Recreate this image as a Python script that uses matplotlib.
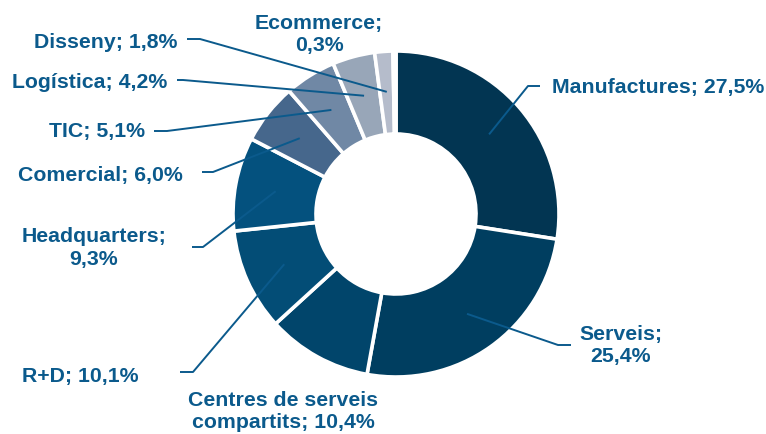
import numpy as np
import matplotlib
matplotlib.use("Agg")
import matplotlib.pyplot as plt

# Sector shares (%)
categories = ["Manufactures", "Serveis", "Centres de serveis compartits", "R+D",
              "Headquarters", "Comercial", "TIC", "Logística", "Disseny", "Ecommerce"]
values = [27.5, 25.4, 10.4, 10.1, 9.3, 6.0, 5.1, 4.2, 1.8, 0.3]
value_labels = ["27,5%", "25,4%", "10,4%", "10,1%", "9,3%", "6,0%", "5,1%", "4,2%", "1,8%", "0,3%"]
label_texts = ["Manufactures; 27,5%", "Serveis;\n25,4%", "Centres de serveis\ncompartits; 10,4%",
               "R+D; 10,1%", "Headquarters;\n9,3%", "Comercial; 6,0%", "TIC; 5,1%",
               "Logística; 4,2%", "Disseny; 1,8%", "Ecommerce;\n0,3%"]

colors = ["#023552", "#003e60", "#01456b", "#034d76", "#04517e",
          "#46678c", "#7088a5", "#98a6b8", "#b5bccb", "#dde1e8"]
text_color = "#0b5a8c"

W, H = 766, 435
fig = plt.figure(figsize=(W / 100, H / 100), dpi=100)
ax = fig.add_axes([0, 0, 1, 1])

cx, cy = 396, H - 215
r_out, r_in = 163, 80

wedges, _ = ax.pie(values, colors=colors, startangle=90, counterclock=False,
                   center=(cx, cy), radius=r_out, frame=True,
                   wedgeprops=dict(width=r_out - r_in, edgecolor="white", linewidth=2.6))
ax.set_xlim(0, W)
ax.set_ylim(0, H)
ax.set_aspect("equal")
ax.axis("off")

# label layout: (text x, text y, ha, elbow x, elbow y, line end x) in pixel coords (y from top)
layout = {
    "Manufactures": (552, 87, "left", 528, 87, 540),
    "Serveis": (621, 346, "center", 558, 346, 571),
    "Centres de serveis compartits": (283, 412, "center", None, None, None),
    "R+D": (80, 377, "center", 193, 373, 180),
    "Headquarters": (94, 248, "center", 203, 248, 192),
    "Comercial": (100, 175, "center", 213, 173, 202),
    "TIC": (97, 132, "center", 167, 132, 154),
    "Logística": (90, 82, "center", 183, 81, 177),
    "Disseny": (106, 42, "center", 200, 40, 187),
    "Ecommerce": (319, 35, "center", None, None, None),
}

r_mid = (r_out + r_in) / 2 + 1
for w, cat, txt in zip(wedges, categories, label_texts):
    tx, ty, ha, ex, ey, lx = layout[cat]
    ang = np.deg2rad((w.theta1 + w.theta2) / 2)
    ax_, ay_ = cx + r_mid * np.cos(ang), cy + r_mid * np.sin(ang)
    if ex is not None:
        ax.plot([ax_, ex, lx], [ay_, H - ey, H - ey], color=text_color, lw=1.4,
                solid_capstyle="butt", zorder=5)
    ax.text(tx, H - ty, txt, ha=ha, va="center", color=text_color,
            fontsize=15.3, fontweight="bold", family="Liberation Sans",
            linespacing=1.2, zorder=6)

fig.savefig("out.png", dpi=100, facecolor="white")
